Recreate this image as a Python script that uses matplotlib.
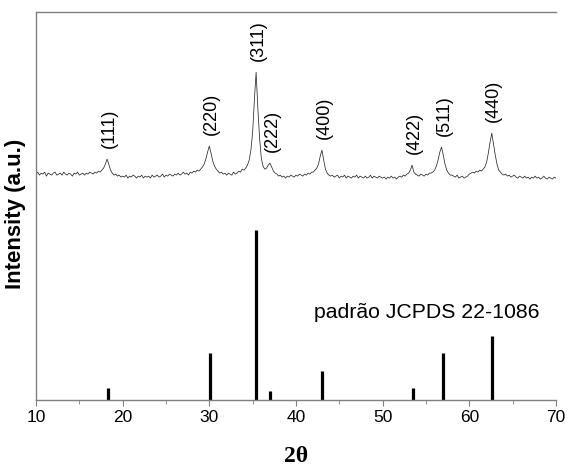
import numpy as np
import matplotlib
matplotlib.use("Agg")
import matplotlib.pyplot as plt

plt.rcParams["font.family"] = ["Liberation Sans", "DejaVu Sans"]

# measured pattern, 2theta from 10 to 70 deg in 0.2 deg steps (a.u.)
two_theta = np.linspace(10, 70, 301)
counts = [
    226, 228, 225, 227, 226, 228, 224, 227, 226, 225,   # 10
    227, 228, 225, 226, 227, 225, 228, 226, 225, 227,   # 12
    226, 224, 227, 226, 228, 225, 226, 227, 225, 227,   # 14
    226, 228, 227, 226, 228, 227, 229, 228, 230, 232,   # 16
    236, 241, 236, 230, 227, 225, 226, 224, 225, 223,   # 18
    224, 223, 225, 222, 224, 223, 225, 224, 222, 224,   # 20
    223, 225, 222, 224, 223, 224, 222, 225, 223, 224,   # 22
    225, 223, 224, 226, 223, 225, 224, 226, 225, 224,   # 24
    226, 225, 227, 225, 226, 228, 226, 227, 225, 228,   # 26
    227, 229, 228, 230, 229, 231, 233, 236, 241, 248,   # 28
    254, 247, 239, 234, 231, 229, 227, 228, 226, 227,   # 30
    225, 227, 226, 225, 228, 226, 227, 229, 228, 231,   # 32
    230, 232, 235, 240, 250, 268, 300, 328, 292, 262,   # 34
    242, 234, 231, 232, 235, 237, 233, 229, 227, 226,   # 36
    224, 225, 223, 224, 222, 224, 223, 225, 224, 223,   # 38
    225, 224, 226, 225, 224, 226, 225, 227, 226, 228,   # 40
    228, 230, 232, 236, 244, 250, 240, 231, 227, 225,   # 42
    224, 225, 223, 224, 225, 222, 224, 223, 225, 222,   # 44
    224, 223, 222, 224, 223, 225, 222, 224, 223, 222,   # 46
    224, 222, 223, 225, 222, 224, 223, 222, 224, 223,   # 48
    222, 223, 221, 223, 222, 224, 222, 223, 221, 223,   # 50
    224, 223, 225, 224, 226, 227, 230, 235, 228, 226,   # 52
    225, 224, 226, 225, 224, 226, 225, 227, 227, 228,   # 54
    230, 234, 240, 248, 253, 245, 236, 230, 227, 225,   # 56
    225, 224, 223, 225, 222, 223, 224, 222, 223, 224,   # 58
    226, 227, 228, 227, 229, 228, 230, 229, 231, 233,   # 60
    238, 247, 258, 267, 256, 245, 236, 230, 228, 226,   # 62
    225, 226, 224, 225, 223, 224, 225, 223, 222, 224,   # 64
    223, 222, 224, 222, 223, 221, 223, 222, 224, 222,   # 66
    223, 221, 222, 224, 222, 221, 223, 222, 221, 223,   # 68
    222,                                                # 70
]

# reference sticks, JCPDS 22-1086
ref_pos = [18.29, 30.08, 35.44, 37.06, 43.06, 53.45, 56.97, 62.59]
ref_int = [12, 47, 170, 9, 29, 12, 47, 64]
hkl = ["(111)", "(220)", "(311)", "(222)", "(400)", "(422)", "(511)", "(440)"]

fig = plt.figure(figsize=(5.69, 4.70), dpi=100)
ax = fig.add_axes([0.0633, 0.149, 0.9137, 0.825])

ax.plot(two_theta, counts, color="#2a2a2a", lw=0.55)
ax.vlines(ref_pos, 0, ref_int, color="black", lw=2.3)

counts_arr = np.array(counts)
for pos, lab in zip(ref_pos, hkl):
    near = np.abs(two_theta - pos) < 0.35
    top = counts_arr[near].max()
    ax.text(pos + 0.2, top + 11, lab, rotation=90, ha="center", va="bottom",
            fontsize=13)

ax.text(55.1, 88, "padrão JCPDS 22-1086", ha="center", va="center",
        fontsize=15.3)

ax.set_xlim(10, 70)
ax.set_ylim(0, 388)
ax.set_xticks(range(10, 71, 10))
ax.set_xticks(range(15, 70, 10), minor=True)
ax.set_yticks([])
ax.tick_params(axis="x", which="major", direction="out", length=4,
               color="#808080", labelsize=12.5, pad=3)
ax.tick_params(axis="x", which="minor", direction="out", length=3,
               color="#808080")

for side in ("left", "bottom", "top"):
    ax.spines[side].set_color("#808080")
    ax.spines[side].set_linewidth(1.0)
ax.spines["right"].set_visible(False)

ax.set_ylabel("Intensity (a.u.)", fontsize=16, fontweight="bold")
ax.yaxis.set_label_coords(-0.02, 0.48)
ax.set_xlabel("2θ", fontsize=17, fontweight="bold",
              family=["Liberation Serif", "DejaVu Serif"])
ax.xaxis.set_label_coords(0.5, -0.12)

fig.savefig("out.png", dpi=100)
